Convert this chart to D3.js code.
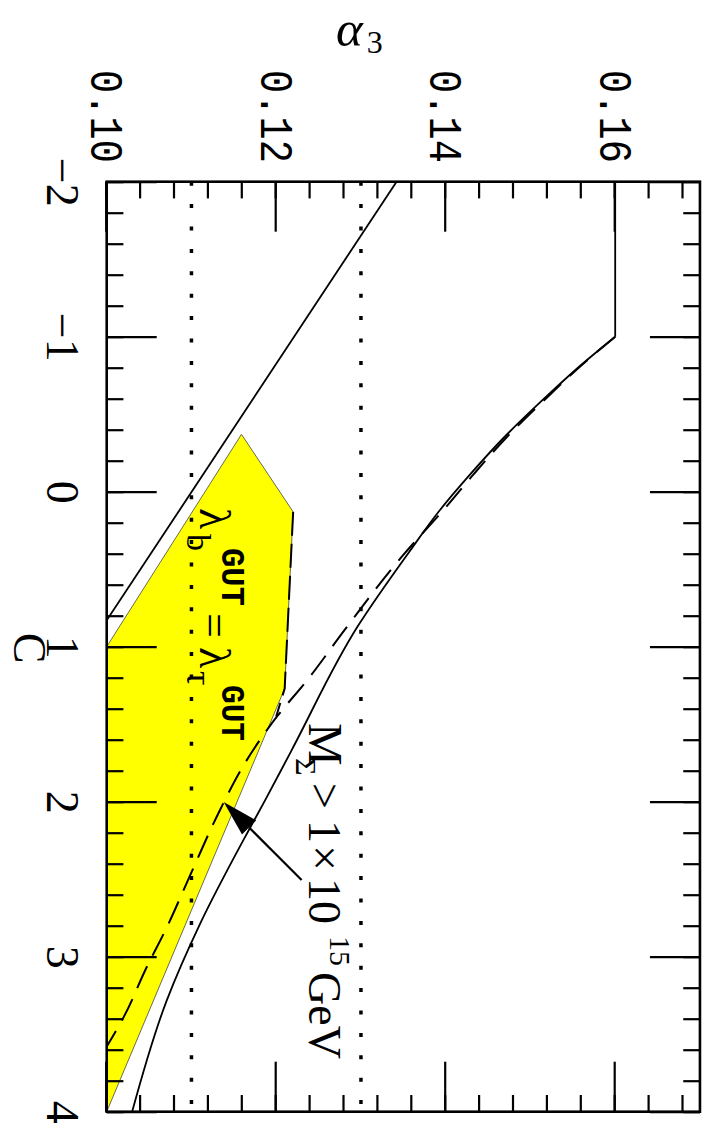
<!DOCTYPE html>
<html><head><meta charset="utf-8">
<script src="https://cdn.jsdelivr.net/npm/d3@7"></script>
<style>html,body{margin:0;padding:0;background:#fff}</style>
</head><body>
<svg id="chart" width="708" height="1133"></svg>
<script>
// ---- data ----
const cMajor = [-2, -1, 0, 1, 2, 3, 4];
const cTickLabels = ["\u22122", "\u22121", "0", "1", "2", "3", "4"];
const aMajor = [0.10, 0.12, 0.14, 0.16];
const aTickLabels = ["0.10", "0.12", "0.14", "0.16"];

// left solid boundary
const leftC = [-2, 0.83];
const leftA = [0.1342, 0.100];

// solid M_Sigma curve (flat part, then falling curve)
const solidC = [-2, -1, -0.8, -0.6, -0.34, -0.1, 0.12, 0.38, 0.87, 1.67, 1.99, 2.2, 2.79, 3.28, 4.0];
const solidA = [0.160, 0.160, 0.1556, 0.1516, 0.1467, 0.1427, 0.1393, 0.1358, 0.1296, 0.1218, 0.1187, 0.1166, 0.1110, 0.1071, 0.1030];

// dashed curve
const dashC = [-1, -0.8, -0.6, -0.34, -0.1, 0.12, 0.42, 0.89, 1.22, 1.45, 1.77, 2.05, 2.48, 2.81, 3.07, 3.39, 3.58];
const dashA = [0.160, 0.1557, 0.1518, 0.1470, 0.1431, 0.1397, 0.1348, 0.1281, 0.1236, 0.1201, 0.1161, 0.1134, 0.1098, 0.1071, 0.1047, 0.1020, 0.1000];

// dashed edge of the yellow region
const edgeC = [0.13, 1.27, 1.45];
const edgeA = [0.1220, 0.1210, 0.1200];

// yellow region (lambda_b = lambda_tau)
const regionC = [1.0, -0.37, 0.13, 1.27, 4.0];
const regionA = [0.100, 0.1159, 0.1220, 0.1210, 0.100];

// dotted reference lines
const dottedA = [0.11, 0.13];

// ---- layout (drawn in the un-rotated frame, then rotated 90deg) ----
const W = 708, H = 1133;
const svg = d3.select("#chart");
svg.append("rect").attr("width", W).attr("height", H).attr("fill", "#fff");
const g = svg.append("g").attr("transform", `translate(${W},0) rotate(90)`);

const x = d3.scaleLinear().domain([-2, 4]).range([181.7, 1111.7]);
const y = d3.scaleLinear().domain([0.10, 0.17]).range([601.3, 8.05]);

const zip = (a, b) => a.map((v, i) => [v, b[i]]);
const line = d3.line().x(d => x(d[0])).y(d => y(d[1]));
const smooth = d3.line().x(d => x(d[0])).y(d => y(d[1])).curve(d3.curveMonotoneX);

g.append("clipPath").attr("id", "clip").append("rect")
  .attr("x", x(-2)).attr("y", y(0.17)).attr("width", x(4) - x(-2)).attr("height", y(0.10) - y(0.17));
const plot = g.append("g").attr("clip-path", "url(#clip)");

// yellow region
plot.append("path").datum(zip(regionC, regionA))
  .attr("d", d => line(d) + "Z")
  .attr("fill", "#ffff00").attr("stroke", "#444").attr("stroke-width", 0.8);

// dotted lines
dottedA.forEach(a => {
  plot.append("line").attr("x1", x(-2)).attr("x2", x(4)).attr("y1", y(a)).attr("y2", y(a))
    .attr("stroke", "#000").attr("stroke-width", 3.5).attr("stroke-dasharray", "4,18.4");
});

// curves
plot.append("path").datum(zip(leftC, leftA)).attr("d", line)
  .attr("fill", "none").attr("stroke", "#000").attr("stroke-width", 1.8);
const solidPts = zip(solidC, solidA);
plot.append("path").datum(solidPts.slice(0, 2)).attr("d", line)
  .attr("fill", "none").attr("stroke", "#000").attr("stroke-width", 1.8);
plot.append("path").datum(solidPts.slice(1)).attr("d", smooth)
  .attr("fill", "none").attr("stroke", "#000").attr("stroke-width", 1.8);
plot.append("path").datum(zip(dashC, dashA)).attr("d", smooth)
  .attr("fill", "none").attr("stroke", "#000").attr("stroke-width", 2)
  .attr("stroke-dasharray", "24,12");
plot.append("path").datum(zip(edgeC, edgeA)).attr("d", line)
  .attr("fill", "none").attr("stroke", "#000").attr("stroke-width", 2)
  .attr("stroke-dasharray", "24,8");

// ---- axes ----
const tickStyle = sel => {
  sel.select(".domain").remove();
  sel.selectAll(".tick line").attr("stroke", "#000").attr("stroke-width", 2.2);
};
const cMinor = x.ticks(30);
const aMinor = d3.range(0.10, 0.1701, 0.004);

// bottom (C axis, appears on the left on screen)
g.append("g").attr("transform", `translate(0,${y(0.10)})`)
  .call(d3.axisBottom(x).tickValues(cMinor).tickSize(-16.7).tickFormat(""))
  .call(tickStyle);
const cAx = g.append("g").attr("transform", `translate(0,${y(0.10)})`)
  .call(d3.axisBottom(x).tickValues(cMajor).tickSize(-50).tickPadding(27)
    .tickFormat((d, i) => cTickLabels[i]))
  .call(tickStyle);
cAx.selectAll("text").attr("font-family", "'Liberation Serif', serif")
  .attr("font-size", 46).attr("fill", "#000");

// top mirror (appears on the right on screen)
g.append("g").attr("transform", `translate(0,${y(0.17)})`)
  .call(d3.axisTop(x).tickValues(cMinor).tickSize(-16.7).tickFormat(""))
  .call(tickStyle);
g.append("g").attr("transform", `translate(0,${y(0.17)})`)
  .call(d3.axisTop(x).tickValues(cMajor).tickSize(-50).tickFormat(""))
  .call(tickStyle);

// left (alpha_3 axis, appears on top on screen)
g.append("g").attr("transform", `translate(${x(-2)},0)`)
  .call(d3.axisLeft(y).tickValues(aMinor).tickSize(-16.7).tickFormat(""))
  .call(tickStyle);
const aAx = g.append("g").attr("transform", `translate(${x(-2)},0)`)
  .call(d3.axisLeft(y).tickValues(aMajor).tickSize(-50).tickPadding(18.7)
    .tickFormat((d, i) => aTickLabels[i]))
  .call(tickStyle);
aAx.selectAll("text").attr("font-family", "'Liberation Mono', monospace")
  .attr("font-size", 46).attr("fill", "#000")
  .attr("textLength", 93).attr("lengthAdjust", "spacingAndGlyphs");

// right mirror (appears on the bottom on screen)
g.append("g").attr("transform", `translate(${x(4)},0)`)
  .call(d3.axisRight(y).tickValues(aMinor).tickSize(-16.7).tickFormat(""))
  .call(tickStyle);
g.append("g").attr("transform", `translate(${x(4)},0)`)
  .call(d3.axisRight(y).tickValues(aMajor).tickSize(-50).tickFormat(""))
  .call(tickStyle);

// frame
g.append("rect").attr("x", x(-2)).attr("y", y(0.17))
  .attr("width", x(4) - x(-2)).attr("height", y(0.10) - y(0.17))
  .attr("fill", "none").attr("stroke", "#000").attr("stroke-width", 2.6);

// x axis title "C"
g.append("text").attr("x", 648).attr("y", 694).attr("text-anchor", "middle")
  .attr("font-family", "'Liberation Serif', serif").attr("font-size", 46).text("C");

// y axis title (upright on screen)
const at = svg.append("text").attr("x", 336).attr("y", 46)
  .attr("font-family", "'Liberation Serif', serif").attr("fill", "#000");
at.append("tspan").attr("font-style", "italic").attr("font-size", 51).text("\u03b1");
at.append("tspan").attr("font-size", 32).attr("dx", 4).attr("dy", 7).text("3");

// ---- annotations ----
const serif = "'Liberation Serif', serif";
const mono = "'Liberation Mono', monospace";
const ann = g.append("g").attr("fill", "#000");
function put(txt, px, py, size, fam, extra) {
  const t = ann.append("text").attr("x", px).attr("y", py)
    .attr("font-family", fam).attr("font-size", size).text(txt);
  if (extra) extra(t);
  return t;
}
// M_Sigma > 1x10^15 GeV
put("M", 723, 399, 48, serif);
put("\u03a3", 758, 412, 30, serif);
put(">", 783, 399, 46, serif);
put("1", 820, 399, 46, serif);
put("\u00d7", 845, 399, 46, serif);
put("10", 878, 399, 46, serif);
put("15", 936, 378, 30, serif);
put("GeV", 972, 399, 46, serif);

// lambda_b^GUT = lambda_tau^GUT
put("\u03bb", 508, 508, 44, serif);
put("b", 534, 521, 34, serif);
put("GUT", 548, 486, 34, mono, t => t.attr("font-weight", "bold").attr("textLength", 58).attr("lengthAdjust", "spacingAndGlyphs"));
put("=", 613, 508, 44, serif);
put("\u03bb", 647, 508, 44, serif);
put("\u03c4", 671, 521, 36, serif);
put("GUT", 685, 486, 34, mono, t => t.attr("font-weight", "bold").attr("textLength", 56).attr("lengthAdjust", "spacingAndGlyphs"));

// arrow
const tail = [x(2.505), y(0.1230)], tip = [x(2.002), y(0.1138)];
const dx = tip[0] - tail[0], dy = tip[1] - tail[1], L = Math.hypot(dx, dy);
const ux = dx / L, uy = dy / L, hl = 36, hw = 10;
const base = [tip[0] - ux * hl, tip[1] - uy * hl];
ann.append("line").attr("x1", tail[0]).attr("y1", tail[1]).attr("x2", base[0]).attr("y2", base[1])
  .attr("stroke", "#000").attr("stroke-width", 2.2);
ann.append("path").attr("d",
  `M${tip[0]},${tip[1]}L${base[0] - uy * hw},${base[1] + ux * hw}L${base[0] + uy * hw},${base[1] - ux * hw}Z`)
  .attr("fill", "#000");
</script>
</body></html>
